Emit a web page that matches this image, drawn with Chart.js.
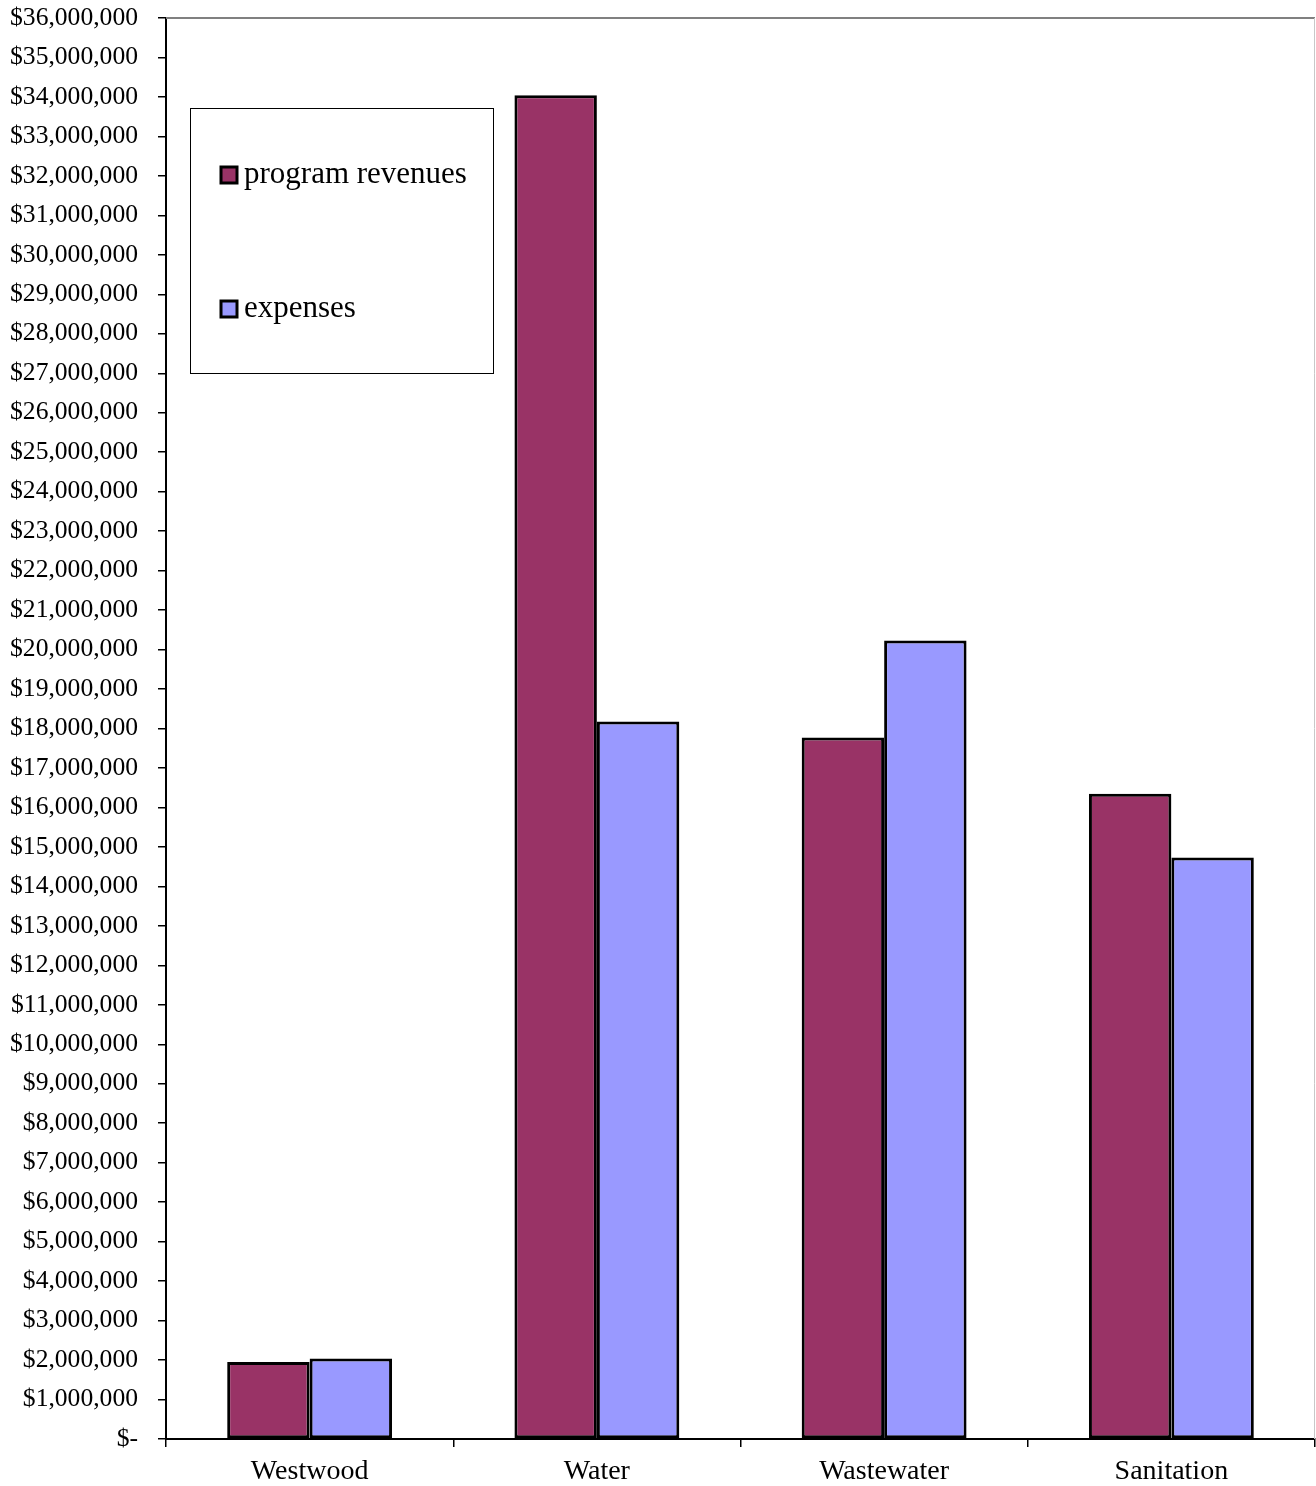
<!DOCTYPE html>
<html>
<head>
<meta charset="utf-8">
<script src="https://cdn.jsdelivr.net/npm/chart.js@4/dist/chart.umd.min.js"></script>
<style>
html,body{margin:0;padding:0;background:#fff;}
#wrap{width:1316px;height:1486px;}
</style>
</head>
<body>
<div id="wrap"><canvas id="c" width="1316" height="1486"></canvas></div>
<script>
const categories = ["Westwood", "Water", "Wastewater", "Sanitation"];
const programRevenues = [1950000, 34040000, 17770000, 16350000];
const expenses = [2040000, 18180000, 20230000, 14730000];
const seriesNames = ["program revenues", "expenses"];
const seriesColors = ["#993366", "#9999FF"];
const yMin = 0, yMax = 36000000, yStep = 1000000;

function fmtMoney(v) {
  if (v === 0) return "$-";
  return "$" + Math.round(v).toLocaleString("en-US");
}

const legendPlugin = {
  id: "boxLegend",
  afterDraw(chart) {
    const ctx = chart.ctx;
    const area = chart.chartArea;
    ctx.save();
    ctx.strokeStyle = "#808080";
    ctx.lineWidth = 2;
    ctx.beginPath();
    ctx.moveTo(area.left, area.top);
    ctx.lineTo(area.right, area.top);
    ctx.stroke();
    ctx.strokeStyle = "#c8c8c8";
    ctx.lineWidth = 1;
    ctx.beginPath();
    ctx.moveTo(area.right - 0.5, area.top);
    ctx.lineTo(area.right - 0.5, area.bottom);
    ctx.stroke();
    ctx.fillStyle = "#fff";
    ctx.fillRect(190.5, 108.5, 303, 265);
    ctx.strokeStyle = "#000";
    ctx.lineWidth = 1;
    ctx.strokeRect(190.5, 108.5, 303, 265);
    const ys = [175, 309];
    chart.data.datasets.forEach((ds, i) => {
      const y = ys[i];
      ctx.fillStyle = ds.backgroundColor;
      ctx.fillRect(221, y - 8, 16, 16);
      ctx.strokeStyle = "#000";
      ctx.lineWidth = 3;
      ctx.strokeRect(221, y - 8, 16, 16);
      ctx.fillStyle = "#000";
      ctx.font = "31px 'Liberation Serif', 'Times New Roman', serif";
      ctx.textBaseline = "middle";
      ctx.textAlign = "left";
      ctx.fillText(ds.label, 244, y);
    });
    ctx.restore();
  }
};

new Chart(document.getElementById("c"), {
  type: "bar",
  data: {
    labels: categories,
    datasets: [
      { label: seriesNames[0], data: programRevenues, backgroundColor: seriesColors[0], borderColor: "#000", borderWidth: 3, borderSkipped: false },
      { label: seriesNames[1], data: expenses, backgroundColor: seriesColors[1], borderColor: "#000", borderWidth: 3, borderSkipped: false }
    ]
  },
  options: {
    responsive: false,
    animation: false,
    devicePixelRatio: 1,
    layout: { padding: { top: 18, right: 1, left: 0, bottom: 0 } },
    datasets: { bar: { categoryPercentage: 0.574, barPercentage: 1.0 } },
    plugins: { legend: { display: false }, tooltip: { enabled: false } },
    scales: {
      x: {
        grid: { offset: true, drawOnChartArea: false, drawTicks: true, tickLength: 8, color: "#000", lineWidth: 1.5 },
        border: { display: true, color: "#000", width: 2 },
        ticks: { color: "#000", padding: 8, font: { family: "'Liberation Serif', 'Times New Roman', serif", size: 28 }, maxRotation: 0 },
        afterFit(scale) { scale.height = 47; scale.paddingLeft = 0; scale.paddingRight = 0; }
      },
      y: {
        min: yMin, max: yMax,
        grid: { drawOnChartArea: false, drawTicks: true, tickLength: 8, color: "#000", lineWidth: 1.5 },
        border: { display: true, color: "#000", width: 2 },
        ticks: {
          stepSize: yStep, autoSkip: false, color: "#000", padding: 20,
          font: { family: "'Liberation Serif', 'Times New Roman', serif", size: 25.6 },
          callback: (v) => fmtMoney(v)
        },
        afterFit(scale) { scale.width = 166; scale.paddingTop = 0; scale.paddingBottom = 0; }
      }
    }
  },
  plugins: [legendPlugin]
});
</script>
</body>
</html>
